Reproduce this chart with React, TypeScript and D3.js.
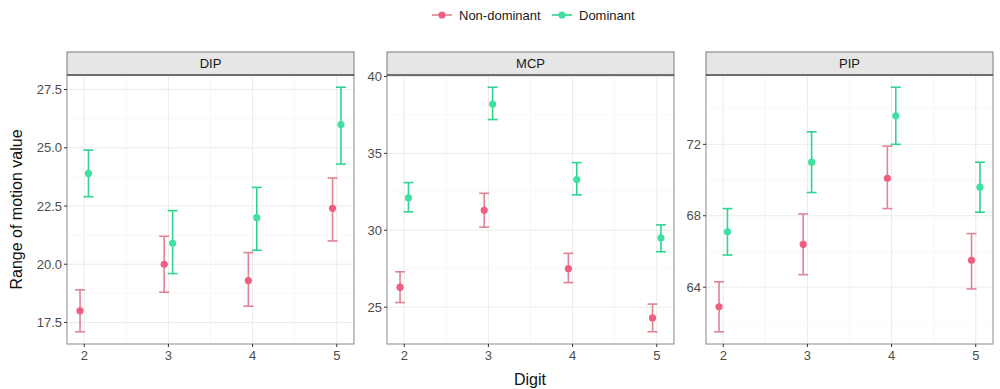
import { useEffect, useRef } from "react"
import * as d3 from "d3"

const digits = [2, 3, 4, 5]
const groups = ["Non-dominant", "Dominant"]
const panels = ["DIP", "MCP", "PIP"]

// mean, lower, upper per digit
const dipNonMean = [18.0, 20.0, 19.3, 22.4]
const dipNonLo = [17.1, 18.8, 18.2, 21.0]
const dipNonHi = [18.9, 21.2, 20.5, 23.7]
const dipDomMean = [23.9, 20.9, 22.0, 26.0]
const dipDomLo = [22.9, 19.6, 20.6, 24.3]
const dipDomHi = [24.9, 22.3, 23.3, 27.6]

const mcpNonMean = [26.3, 31.3, 27.5, 24.3]
const mcpNonLo = [25.3, 30.2, 26.6, 23.4]
const mcpNonHi = [27.3, 32.4, 28.5, 25.2]
const mcpDomMean = [32.1, 38.2, 33.3, 29.5]
const mcpDomLo = [31.2, 37.2, 32.3, 28.6]
const mcpDomHi = [33.1, 39.3, 34.4, 30.35]

const pipNonMean = [62.9, 66.4, 70.1, 65.5]
const pipNonLo = [61.5, 64.7, 68.4, 63.9]
const pipNonHi = [64.3, 68.1, 71.9, 67.0]
const pipDomMean = [67.1, 71.0, 73.6, 69.6]
const pipDomLo = [65.8, 69.3, 72.0, 68.2]
const pipDomHi = [68.4, 72.7, 75.2, 71.0]

const dipTicks = [17.5, 20, 22.5, 25, 27.5]
const mcpTicks = [25, 30, 35, 40]
const pipTicks = [64, 68, 72]

const W = 1000
const H = 389

export default function App() {
  const svgRef = useRef<SVGSVGElement>(null)

  useEffect(() => {
    if (!svgRef.current) return
    const svg = d3.select(svgRef.current)
    svg.selectAll("*").remove()

    const font = "Liberation Sans, Arial, sans-serif"
    const colors: Record<string, { dot: string; bar: string }> = {
      "Non-dominant": { dot: "#ee5f80", bar: "#e08393" },
      Dominant: { dot: "#3fe0a2", bar: "#30d48e" },
    }

    const panelData = [
      {
        name: panels[0], ticks: dipTicks, fmt: (v: number) => v.toFixed(1),
        series: [
          { g: "Non-dominant", mean: dipNonMean, lo: dipNonLo, hi: dipNonHi },
          { g: "Dominant", mean: dipDomMean, lo: dipDomLo, hi: dipDomHi },
        ],
      },
      {
        name: panels[1], ticks: mcpTicks, fmt: (v: number) => String(v),
        series: [
          { g: "Non-dominant", mean: mcpNonMean, lo: mcpNonLo, hi: mcpNonHi },
          { g: "Dominant", mean: mcpDomMean, lo: mcpDomLo, hi: mcpDomHi },
        ],
      },
      {
        name: panels[2], ticks: pipTicks, fmt: (v: number) => String(v),
        series: [
          { g: "Non-dominant", mean: pipNonMean, lo: pipNonLo, hi: pipNonHi },
          { g: "Dominant", mean: pipDomMean, lo: pipDomLo, hi: pipDomHi },
        ],
      },
    ]

    const panelLeft = [67, 387, 706]
    const panelW = 287
    const stripTop = 52
    const stripH = 23
    const plotTop = stripTop + stripH
    const plotBottom = 344
    const dodge = 0.05

    // continuous x with 5% expansion
    const xMin = d3.min(digits)! - dodge
    const xMax = d3.max(digits)! + dodge
    const xPad = (xMax - xMin) * 0.05

    panelData.forEach((p, pi) => {
      const left = panelLeft[pi]
      const g = svg.append("g")

      const allLo = p.series.flatMap(s => s.lo)
      const allHi = p.series.flatMap(s => s.hi)
      const yMin = d3.min(allLo)!
      const yMax = d3.max(allHi)!
      const yPad = (yMax - yMin) * 0.05

      const x = d3.scaleLinear().domain([xMin - xPad, xMax + xPad]).range([left, left + panelW])
      const y = d3.scaleLinear().domain([yMin - yPad, yMax + yPad]).range([plotBottom, plotTop])

      g.append("rect")
        .attr("x", left).attr("y", plotTop)
        .attr("width", panelW).attr("height", plotBottom - plotTop)
        .attr("fill", "#ffffff")

      // minor grid
      const step = p.ticks[1] - p.ticks[0]
      const minorY: number[] = []
      for (let v = p.ticks[0] - step / 2; v <= y.domain()[1]; v += step) {
        if (v >= y.domain()[0]) minorY.push(v)
      }
      const minorX = digits.slice(0, -1).map(d => d + 0.5)
      g.selectAll(".minY").data(minorY).enter().append("line")
        .attr("x1", left).attr("x2", left + panelW)
        .attr("y1", d => y(d)).attr("y2", d => y(d))
        .attr("stroke", "#f4f4f4").attr("stroke-width", 0.6)
      g.selectAll(".minX").data(minorX).enter().append("line")
        .attr("y1", plotTop).attr("y2", plotBottom)
        .attr("x1", d => x(d)).attr("x2", d => x(d))
        .attr("stroke", "#f4f4f4").attr("stroke-width", 0.6)

      // major grid
      g.selectAll(".majY").data(p.ticks).enter().append("line")
        .attr("x1", left).attr("x2", left + panelW)
        .attr("y1", d => y(d)).attr("y2", d => y(d))
        .attr("stroke", "#ebebeb").attr("stroke-width", 1)
      g.selectAll(".majX").data(digits).enter().append("line")
        .attr("y1", plotTop).attr("y2", plotBottom)
        .attr("x1", d => x(d)).attr("x2", d => x(d))
        .attr("stroke", "#ebebeb").attr("stroke-width", 1)

      // error bars and points
      p.series.forEach((s, si) => {
        const off = si === 0 ? -dodge : dodge
        const c = colors[s.g]
        const cap = 5
        digits.forEach((d, i) => {
          const cx = x(d + off)
          g.append("line")
            .attr("x1", cx).attr("x2", cx)
            .attr("y1", y(s.lo[i])).attr("y2", y(s.hi[i]))
            .attr("stroke", c.bar).attr("stroke-width", 1.6)
          ;[s.lo[i], s.hi[i]].forEach(v => {
            g.append("line")
              .attr("x1", cx - cap).attr("x2", cx + cap)
              .attr("y1", y(v)).attr("y2", y(v))
              .attr("stroke", c.bar).attr("stroke-width", 1.6)
          })
          g.append("circle")
            .attr("cx", cx).attr("cy", y(s.mean[i]))
            .attr("r", 3.6).attr("fill", c.dot)
        })
      })

      // panel border
      g.append("rect")
        .attr("x", left).attr("y", plotTop)
        .attr("width", panelW).attr("height", plotBottom - plotTop)
        .attr("fill", "none").attr("stroke", "#8a8a8a").attr("stroke-width", 1)

      // strip
      g.append("rect")
        .attr("x", left).attr("y", stripTop)
        .attr("width", panelW).attr("height", stripH)
        .attr("fill", "#e6e6e6").attr("stroke", "#7a7a7a").attr("stroke-width", 1)
      g.append("line")
        .attr("x1", left).attr("x2", left + panelW)
        .attr("y1", plotTop).attr("y2", plotTop)
        .attr("stroke", "#333").attr("stroke-width", 1.2)
      g.append("text")
        .attr("x", left + panelW / 2).attr("y", stripTop + stripH / 2)
        .attr("text-anchor", "middle").attr("dominant-baseline", "central")
        .attr("font-family", font).attr("font-size", 13).attr("fill", "#1a1a1a")
        .text(p.name)

      // y axis
      g.selectAll(".yt").data(p.ticks).enter().append("line")
        .attr("x1", left - 3).attr("x2", left)
        .attr("y1", d => y(d)).attr("y2", d => y(d))
        .attr("stroke", "#333").attr("stroke-width", 1)
      g.selectAll(".yl").data(p.ticks).enter().append("text")
        .attr("x", left - 5).attr("y", d => y(d))
        .attr("text-anchor", "end").attr("dominant-baseline", "central")
        .attr("font-family", font).attr("font-size", 13).attr("fill", "#4d4d4d")
        .text(d => p.fmt(d))

      // x axis
      g.selectAll(".xt").data(digits).enter().append("line")
        .attr("x1", d => x(d)).attr("x2", d => x(d))
        .attr("y1", plotBottom).attr("y2", plotBottom + 3)
        .attr("stroke", "#333").attr("stroke-width", 1)
      g.selectAll(".xl").data(digits).enter().append("text")
        .attr("x", d => x(d)).attr("y", plotBottom + 16)
        .attr("text-anchor", "middle")
        .attr("font-family", font).attr("font-size", 13).attr("fill", "#4d4d4d")
        .text(d => String(d))
    })

    // axis titles
    svg.append("text")
      .attr("transform", `translate(16,${(plotTop + plotBottom) / 2}) rotate(-90)`)
      .attr("text-anchor", "middle").attr("dominant-baseline", "central")
      .attr("font-family", font).attr("font-size", 16).attr("fill", "#111")
      .text("Range of motion value")
    svg.append("text")
      .attr("x", 530).attr("y", 385)
      .attr("text-anchor", "middle")
      .attr("font-family", font).attr("font-size", 16).attr("fill", "#111")
      .text("Digit")

    // legend
    const legendX = [432, 552]
    groups.forEach((grp, i) => {
      const lx = legendX[i]
      const ly = 15
      const c = colors[grp]
      svg.append("line")
        .attr("x1", lx).attr("x2", lx + 20)
        .attr("y1", ly).attr("y2", ly)
        .attr("stroke", c.bar).attr("stroke-width", 1.6)
      svg.append("circle").attr("cx", lx + 10).attr("cy", ly).attr("r", 3.6).attr("fill", c.dot)
      svg.append("text")
        .attr("x", lx + 27).attr("y", ly)
        .attr("dominant-baseline", "central")
        .attr("font-family", font).attr("font-size", 13).attr("fill", "#1a1a1a")
        .text(grp)
    })
  }, [])

  return (
    <svg
      ref={svgRef}
      width={W}
      height={H}
      style={{ display: "block", position: "absolute", left: 0, top: 0, background: "#fff" }}
    />
  )
}
